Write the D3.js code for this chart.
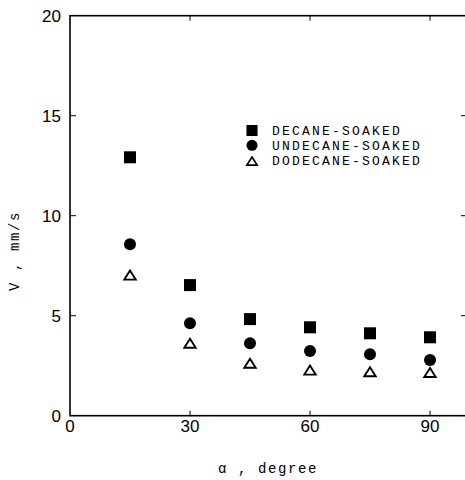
<!DOCTYPE html>
<html>
<head>
<meta charset="utf-8">
<script src="https://cdn.jsdelivr.net/npm/d3@7"></script>
<style>
  body { margin: 0; background: #fff; }
  svg { display: block; }
  .tick-label { font-family: "Liberation Sans", Arial, sans-serif; font-size: 17px; fill: #000; }
  .mono { font-family: "Liberation Mono", "DejaVu Sans Mono", monospace; fill: #000; }
</style>
</head>
<body>
<svg id="chart" width="465" height="480"></svg>
<script>
const angles = [15, 30, 45, 60, 75, 90]
const decane = [12.92, 6.53, 4.83, 4.42, 4.12, 3.92]
const undecane = [8.57, 4.62, 3.62, 3.23, 3.07, 2.78]
const dodecane = [7.03, 3.62, 2.62, 2.28, 2.2, 2.16]
const xTicks = [0, 30, 60, 90]
const yTicks = [0, 5, 10, 15, 20]
const seriesNames = ['DECANE-SOAKED', 'UNDECANE-SOAKED', 'DODECANE-SOAKED']

let svg = d3.select('#chart')
let x = d3.scaleLinear().domain([0, 99.5]).range([70, 468])
let y = d3.scaleLinear().domain([0, 20]).range([415.7, 15.7])

// frame
svg.append('rect')
  .attr('x', x(0)).attr('y', y(20))
  .attr('width', x(99.5) - x(0)).attr('height', y(0) - y(20))
  .attr('fill', 'none').attr('stroke', '#000').attr('stroke-width', 1.6)

// inward ticks, all four sides
let g = svg.append('g')
g.selectAll('.xb').data(xTicks.slice(1)).enter().append('line')
  .attr('x1', d => x(d)).attr('x2', d => x(d))
  .attr('y1', y(0)).attr('y2', y(0) - 5)
  .attr('stroke', '#000')
g.selectAll('.xt').data(xTicks.slice(1)).enter().append('line')
  .attr('x1', d => x(d)).attr('x2', d => x(d))
  .attr('y1', y(20)).attr('y2', y(20) + 5)
  .attr('stroke', '#000')
g.selectAll('.yl').data(yTicks.slice(1, -1)).enter().append('line')
  .attr('x1', x(0)).attr('x2', x(0) + 6)
  .attr('y1', d => y(d)).attr('y2', d => y(d))
  .attr('stroke', '#000')
g.selectAll('.yr').data(yTicks.slice(1, -1)).enter().append('line')
  .attr('x1', x(99.5)).attr('x2', x(99.5) - 7)
  .attr('y1', d => y(d)).attr('y2', d => y(d))
  .attr('stroke', '#000')

// tick labels
svg.selectAll('.xl').data(xTicks).enter().append('text')
  .attr('class', 'tick-label')
  .attr('x', d => x(d)).attr('y', y(0) + 16.5)
  .attr('text-anchor', 'middle')
  .text(d => d)
svg.selectAll('.ylab').data(yTicks).enter().append('text')
  .attr('class', 'tick-label')
  .attr('x', x(0) - 9).attr('y', d => y(d) + 6)
  .attr('text-anchor', 'end')
  .text(d => d)

// axis titles
svg.append('text')
  .attr('class', 'mono')
  .attr('x', 268).attr('y', 473)
  .attr('text-anchor', 'middle')
  .attr('font-size', 14)
  .attr('letter-spacing', 1.6)
  .text('α , degree')
svg.append('text')
  .attr('class', 'mono')
  .attr('transform', 'translate(18.5,251) rotate(-90)')
  .attr('text-anchor', 'middle')
  .attr('font-size', 14)
  .attr('letter-spacing', 1.6)
  .text('V , mm/s')

// markers
function square(sel) {
  sel.append('rect').attr('x', -6).attr('y', -6).attr('width', 12).attr('height', 12).attr('fill', '#000')
}
function circle(sel) {
  sel.append('circle').attr('r', 6).attr('fill', '#000')
}
function triangle(sel) {
  sel.append('path').attr('d', 'M0,-4.5L5.7,4.5L-5.7,4.5Z')
    .attr('fill', '#fff').attr('stroke', '#000').attr('stroke-width', 1.9)
}
const markers = [square, circle, triangle]
const series = [decane, undecane, dodecane]

series.forEach((vals, i) => {
  svg.append('g').selectAll('g').data(vals).enter().append('g')
    .attr('transform', (d, j) => `translate(${x(angles[j])},${y(d)})`)
    .call(markers[i])
})

// legend
let legend = svg.append('g')
seriesNames.forEach((name, i) => {
  let row = legend.append('g').attr('transform', `translate(252,${130.5 + i * 14.8})`)
  let m = row.append('g').attr('transform', i === 2 ? 'translate(0,1) scale(0.9)' : 'scale(0.92)')
  markers[i](m)
  row.append('text').attr('class', 'mono')
    .attr('x', 20).attr('y', 4.5)
    .attr('font-size', 13)
    .attr('letter-spacing', 2.2)
    .text(name)
})
</script>
</body>
</html>
